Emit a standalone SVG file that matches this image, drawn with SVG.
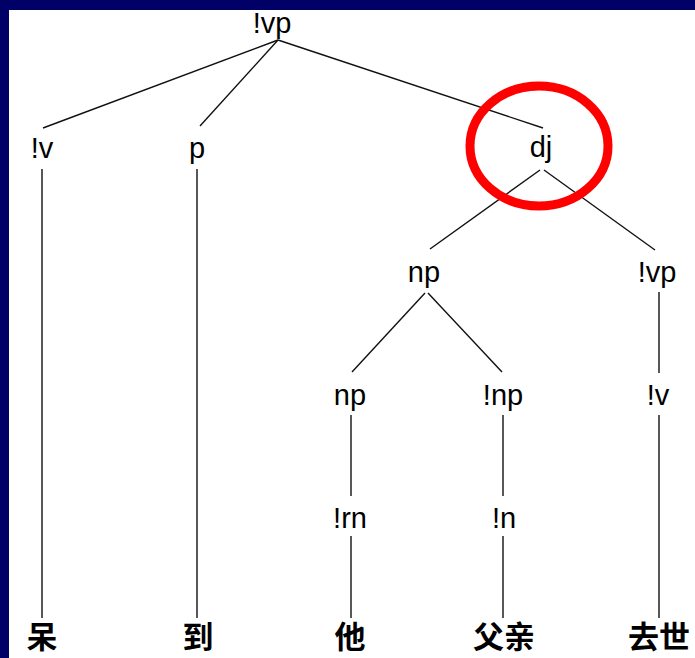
<svg xmlns="http://www.w3.org/2000/svg" width="695" height="658" viewBox="0 0 695 658">
<style>
.lbl{font-family:"Liberation Sans",Arial,sans-serif;font-size:29px;fill:#000;text-anchor:middle}
.cjk{font-family:"Noto Sans CJK SC","Noto Sans CJK JP",sans-serif;font-size:31px;font-weight:bold;fill:#000;text-anchor:middle}
.edge{stroke:#111;stroke-width:1.4;fill:none}
</style>
<rect x="0" y="0" width="695" height="658" fill="#ffffff"/>
<rect x="0" y="0" width="695" height="10" fill="#000066"/>
<rect x="0" y="0" width="9" height="658" fill="#000066"/>
<g id="connectors">
<line class="edge" x1="278" y1="40" x2="43" y2="128"/>
<line class="edge" x1="278" y1="40" x2="200" y2="126"/>
<line class="edge" x1="278" y1="40" x2="543" y2="128"/>
<line class="edge" x1="42" y1="169" x2="42" y2="618"/>
<line class="edge" x1="197" y1="169" x2="197" y2="618"/>
<line class="edge" x1="540" y1="170" x2="430" y2="249"/>
<line class="edge" x1="544" y1="170" x2="655" y2="250"/>
<line class="edge" x1="659" y1="292" x2="659" y2="373"/>
<line class="edge" x1="425" y1="293" x2="352" y2="372"/>
<line class="edge" x1="428" y1="293" x2="502" y2="372"/>
<line class="edge" x1="351" y1="415" x2="351" y2="496"/>
<line class="edge" x1="503" y1="415" x2="503" y2="496"/>
<line class="edge" x1="351" y1="536" x2="351" y2="618"/>
<line class="edge" x1="503" y1="536" x2="503" y2="618"/>
<line class="edge" x1="659" y1="415" x2="659" y2="618"/>
</g>
<g id="n-vp-root"><text class="lbl" x="272" y="33">!vp</text></g>
<g id="n-v1"><text class="lbl" x="42" y="158">!v</text></g>
<g id="n-p"><text class="lbl" x="197" y="158">p</text></g>
<g id="n-dj"><text class="lbl" x="541" y="157">dj</text></g>
<g id="n-np1"><text class="lbl" x="424" y="282">np</text></g>
<g id="n-vp2"><text class="lbl" x="657" y="282">!vp</text></g>
<g id="n-np2"><text class="lbl" x="350" y="405">np</text></g>
<g id="n-np3"><text class="lbl" x="503" y="405">!np</text></g>
<g id="n-v2"><text class="lbl" x="658" y="405">!v</text></g>
<g id="n-rn"><text class="lbl" x="350" y="528">!rn</text></g>
<g id="n-n"><text class="lbl" x="504" y="528">!n</text></g>
<g id="w1"><text class="cjk" x="42" y="648">呆</text></g>
<g id="w2"><text class="cjk" x="198" y="648">到</text></g>
<g id="w3"><text class="cjk" x="350" y="648">他</text></g>
<g id="w4"><text class="cjk" x="504" y="648">父亲</text></g>
<g id="w5"><text class="cjk" x="659" y="648">去世</text></g>
<ellipse id="highlight" cx="539" cy="146" rx="69" ry="60" fill="none" stroke="#ff0000" stroke-width="9"/>
</svg>
